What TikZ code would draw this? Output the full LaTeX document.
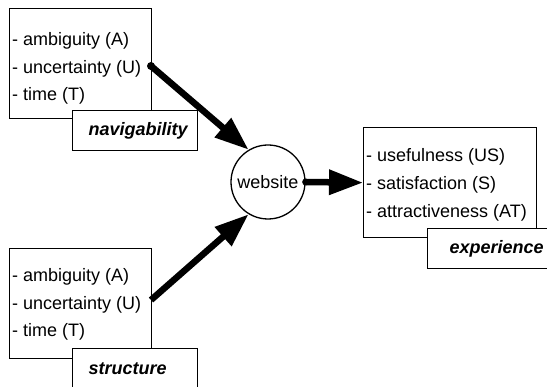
\documentclass[tikz,border=0pt]{standalone}
\usepackage{fontspec}
\setmainfont{Liberation Sans}
\usetikzlibrary{arrows.meta}
\tikzset{
  boxstyle/.style={draw, line width=1.3pt, fill=white, anchor=north west, inner sep=0pt},
  labelbox/.style={draw, line width=1.3pt, fill=white, anchor=north west, minimum height=40pt,
    inner ysep=0pt, align=left, font=\fontsize{18}{22}\selectfont\bfseries\itshape},
  listtext/.style={anchor=west, inner sep=0pt, align=left},
  hub/.style={draw, circle, line width=1.3pt, fill=white, minimum size=74pt, inner sep=0pt},
  bigarrow/.style={line width=6.5pt, -{Triangle[length=34pt,width=24pt]}},
  dot/.style={fill=black}
}
\begin{document}
\begin{tikzpicture}[x=1pt,y=-1pt]
\useasboundingbox (0,0) rectangle (547,387);
% navigability
\node[boxstyle, minimum width=142pt, minimum height=110pt] (navbox) at (9,8) {};
\node[listtext, font=\fontsize{18}{27.5}\selectfont] (navlist) at (12,68.5)
  {- ambiguity (A)\\- uncertainty (U)\\- time (T)};
\node[labelbox, inner xsep=16pt, text width=93pt] (navlabel) at (72,110) {navigability};
% structure
\node[boxstyle, minimum width=142pt, minimum height=110pt] (strbox) at (9,248) {};
\node[listtext, font=\fontsize{18}{27.5}\selectfont] (strlist) at (12,304.5)
  {- ambiguity (A)\\- uncertainty (U)\\- time (T)};
\node[labelbox, inner xsep=16pt, text width=93pt] (strlabel) at (72,348) {structure};
% experience
\node[boxstyle, minimum width=173pt, minimum height=110pt] (expbox) at (363,127) {};
\node[listtext, font=\fontsize{18}{28}\selectfont] (explist) at (366,184.5)
  {- usefulness (US)\\- satisfaction (S)\\- attractiveness (AT)};
\node[labelbox, inner xsep=22pt, text width=100pt] (explabel) at (427,228) {experience};
% hub
\node[hub, font=\fontsize{18}{22}\selectfont] (web) at (268,182) {website};
% connectors
\coordinate (navout) at (151,66);
\coordinate (strout) at (151,300);
\draw[bigarrow] (navout) -- (web.121);
\draw[bigarrow] (strout) -- (web.239);
\draw[bigarrow] (web.east) -- (expbox.west);
\fill[dot] (navout) circle (4pt);
\fill[dot] (web.east) circle (3.5pt);
\end{tikzpicture}
\end{document}
